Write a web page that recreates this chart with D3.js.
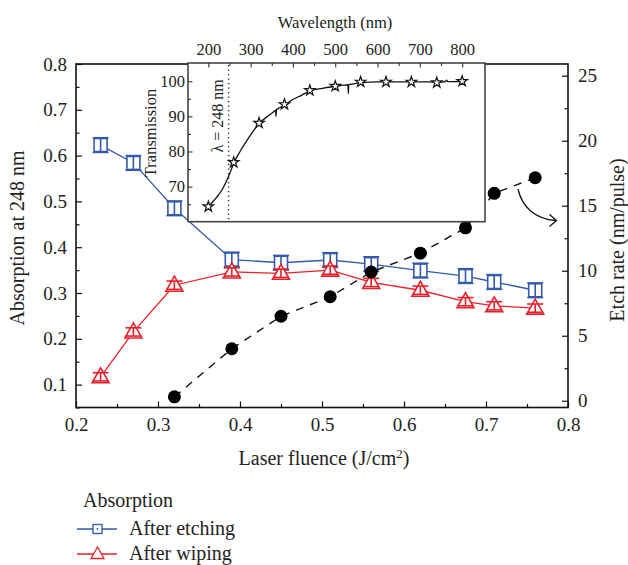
<!DOCTYPE html>
<html><head><meta charset="utf-8">
<script src="https://cdn.jsdelivr.net/npm/d3@7"></script>
<style>body{margin:0;background:#fff}svg{display:block}text{font-family:"Liberation Serif","Times New Roman",serif;fill:#222}</style>
</head><body><svg id="c" width="628" height="565"></svg>
<script>
// ---- data ----
const fluence = [0.23, 0.27, 0.32, 0.39, 0.45, 0.51, 0.56, 0.62, 0.675, 0.71, 0.76];
const absEtching = [0.623, 0.584, 0.485, 0.373, 0.366, 0.372, 0.363, 0.349, 0.337, 0.324, 0.306];
const errEtching = [0.016, 0.016, 0.016, 0.016, 0.016, 0.016, 0.016, 0.016, 0.016, 0.016, 0.016];
const absWiping = [0.117, 0.215, 0.317, 0.346, 0.343, 0.350, 0.323, 0.306, 0.281, 0.272, 0.267];
const errWiping = [0.009, 0.009, 0.009, 0.009, 0.009, 0.009, 0.009, 0.009, 0.009, 0.009, 0.009];
const etchFluence = [0.32, 0.39, 0.45, 0.51, 0.56, 0.62, 0.675, 0.71, 0.76];
const etchRate = [0.3, 4.0, 6.5, 8.0, 9.9, 11.35, 13.3, 15.95, 17.15];
const xTicks = [0.2, 0.3, 0.4, 0.5, 0.6, 0.7, 0.8];
const yLTicks = [0.1, 0.2, 0.3, 0.4, 0.5, 0.6, 0.7, 0.8];
const yRTicks = [0, 5, 10, 15, 20, 25];
// inset spectrum
const specWl = [200, 210, 220, 230, 240, 250, 261, 275, 291, 305, 321, 340, 355, 359, 360, 361, 365, 382, 400, 420, 441, 470, 503, 520, 530, 531, 532, 540, 562, 600, 621, 660, 683, 720, 744, 760, 763, 766, 780, 802];
const specT = [64.3, 65.6, 67.0, 68.6, 70.8, 73.5, 76.9, 80.0, 83.1, 85.6, 88.1, 90.0, 91.4, 91.8, 90.0, 91.9, 92.2, 93.4, 94.8, 96.0, 97.3, 98.0, 98.6, 98.9, 99.0, 96.5, 99.0, 99.2, 99.6, 99.8, 99.8, 99.8, 99.8, 99.8, 99.7, 99.9, 100.3, 99.9, 99.9, 100.0];
const starWl = [200, 260, 320, 380, 440, 500, 560, 620, 680, 740, 800];
const starT = [64.3, 76.9, 88.1, 93.4, 97.4, 98.6, 99.8, 99.8, 99.8, 99.6, 100.0];
const insetXTicks = [200, 300, 400, 500, 600, 700, 800];
const insetYTicks = [70, 80, 90, 100];
const laserLine = 248;

const BLUE = "#3559ad", RED = "#e8212b";
const svg = d3.select("#c");

// ---- scales ----
const L = 76, R = 568, T = 64, B = 407.5;
const x = d3.scaleLinear([0.2, 0.8], [L, R]);
const yL = d3.scaleLinear([0.05, 0.8], [B, T]);
const yR = d3.scaleLinear([-0.52, 25.9], [B, T]);

function minor(vals) {
  const out = [];
  for (let i = 0; i < vals.length - 1; i++) out.push(+((vals[i] + vals[i+1]) / 2).toFixed(4));
  return out;
}

// axes
const fmt1 = d3.format(".1f");
svg.append("g").attr("transform", `translate(0,${B})`)
  .call(d3.axisBottom(x).tickValues(xTicks).tickFormat(fmt1).tickSizeInner(-6).tickSizeOuter(0).tickPadding(10));
svg.append("g").attr("transform", `translate(0,${B})`)
  .call(d3.axisBottom(x).tickValues(minor(xTicks)).tickFormat("").tickSizeInner(-3.5).tickSizeOuter(0));
svg.append("g").attr("transform", `translate(${L},0)`)
  .call(d3.axisLeft(yL).tickValues(yLTicks).tickFormat(fmt1).tickSizeInner(-6).tickSizeOuter(0).tickPadding(9));
svg.append("g").attr("transform", `translate(${L},0)`)
  .call(d3.axisLeft(yL).tickValues([0.05].concat(minor(yLTicks))).tickFormat("").tickSizeInner(-3.5).tickSizeOuter(0));
svg.append("g").attr("transform", `translate(${R},0)`)
  .call(d3.axisRight(yR).tickValues(yRTicks).tickFormat(d3.format("d")).tickSizeInner(-6).tickSizeOuter(0).tickPadding(10));
svg.append("g").attr("transform", `translate(${R},0)`)
  .call(d3.axisRight(yR).tickValues(minor(yRTicks)).tickFormat("").tickSizeInner(-3.5).tickSizeOuter(0));
svg.selectAll(".tick text").style("font-size", "19px").style("font-family", "Liberation Serif").attr("fill", "#222");
svg.selectAll(".tick line").attr("stroke", "#111").attr("stroke-width", 1.2);
svg.selectAll(".domain").remove();
// frame
svg.append("rect").attr("x", L).attr("y", T).attr("width", R - L).attr("height", B - T)
  .attr("fill", "none").attr("stroke", "#111").attr("stroke-width", 1.6);

// titles
svg.append("text").attr("transform", `translate(24,238) rotate(-90)`).attr("text-anchor", "middle")
  .style("font-size", "20px").text("Absorption at 248 nm");
svg.append("text").attr("transform", `translate(624,240) rotate(-90)`).attr("text-anchor", "middle")
  .style("font-size", "20px").text("Etch rate (nm/pulse)");
const xt = svg.append("text").attr("x", 324).attr("y", 465).attr("text-anchor", "middle").style("font-size", "20px");
xt.append("tspan").text("Laser fluence (J/cm");
xt.append("tspan").attr("dy", -7).style("font-size", "13px").text("2");
xt.append("tspan").attr("dy", 7).text(")");

// ---- data: etching (blue squares) ----
const gE = svg.append("g");
gE.append("path").datum(fluence.map((f, i) => [f, absEtching[i]]))
  .attr("d", d3.line().x(d => x(d[0])).y(d => yL(d[1])))
  .attr("fill", "none").attr("stroke", BLUE).attr("stroke-width", 1.3);
fluence.forEach((f, i) => {
  const cx = x(f), cy = yL(absEtching[i]), y1 = yL(absEtching[i] + errEtching[i]), y2 = yL(absEtching[i] - errEtching[i]);
  const g = gE.append("g").attr("stroke", BLUE).attr("stroke-width", 1.6).attr("fill", "none");
  g.append("rect").attr("x", cx - 6.5).attr("y", cy - 6.5).attr("width", 13).attr("height", 13).attr("fill", "#fff");
  g.append("line").attr("x1", cx).attr("x2", cx).attr("y1", y1).attr("y2", y2);
  g.append("line").attr("x1", cx - 8).attr("x2", cx + 8).attr("y1", y1).attr("y2", y1);
  g.append("line").attr("x1", cx - 8).attr("x2", cx + 8).attr("y1", y2).attr("y2", y2);
});

// ---- data: wiping (red triangles) ----
const gW = svg.append("g");
gW.append("path").datum(fluence.map((f, i) => [f, absWiping[i]]))
  .attr("d", d3.line().x(d => x(d[0])).y(d => yL(d[1])))
  .attr("fill", "none").attr("stroke", RED).attr("stroke-width", 1.3);
fluence.forEach((f, i) => {
  const cx = x(f), cy = yL(absWiping[i]), y1 = yL(absWiping[i] + errWiping[i]), y2 = yL(absWiping[i] - errWiping[i]);
  const g = gW.append("g").attr("stroke", RED).attr("stroke-width", 1.6).attr("fill", "none");
  g.append("path").attr("d", `M${cx},${cy - 9}L${cx + 8.5},${cy + 6}L${cx - 8.5},${cy + 6}Z`).attr("fill", "#fff");
  g.append("line").attr("x1", cx).attr("x2", cx).attr("y1", y1).attr("y2", y2);
  g.append("line").attr("x1", cx - 8).attr("x2", cx + 8).attr("y1", y1).attr("y2", y1);
  g.append("line").attr("x1", cx - 8).attr("x2", cx + 8).attr("y1", y2).attr("y2", y2);
});

// ---- etch rate (black dots) ----
svg.append("path").datum(etchFluence.map((f, i) => [f, etchRate[i]]))
  .attr("d", d3.line().x(d => x(d[0])).y(d => yR(d[1])))
  .attr("fill", "none").attr("stroke", "#111").attr("stroke-width", 1.4).attr("stroke-dasharray", "8,7");
svg.append("g").selectAll("circle").data(etchFluence).join("circle")
  .attr("cx", d => x(d)).attr("cy", (d, i) => yR(etchRate[i])).attr("r", 6.5).attr("fill", "#000");

// ---- inset ----
const iL = 188, iR = 485, iT = 63, iB = 221.7;
const xi = d3.scaleLinear([152, 854], [iL, iR]);
const yi = d3.scaleLinear([60, 105.2], [iB, iT]);
const gi = svg.append("g");
gi.append("rect").attr("x", iL).attr("y", iT).attr("width", iR - iL).attr("height", iB - iT)
  .attr("fill", "#fff").attr("stroke", "#444").attr("stroke-width", 1.6);
gi.append("g").attr("transform", `translate(0,${iT})`)
  .call(d3.axisTop(xi).tickValues(insetXTicks).tickFormat(d3.format("d")).tickSizeInner(-4.5).tickSizeOuter(0).tickPadding(8));
gi.append("g").attr("transform", `translate(0,${iT})`)
  .call(d3.axisTop(xi).tickValues(minor(insetXTicks)).tickFormat("").tickSizeInner(-3).tickSizeOuter(0));
gi.append("g").attr("transform", `translate(${iL},0)`)
  .call(d3.axisLeft(yi).tickValues(insetYTicks).tickFormat(d3.format("d")).tickSizeInner(-4.5).tickSizeOuter(0).tickPadding(3));
gi.append("g").attr("transform", `translate(${iL},0)`)
  .call(d3.axisLeft(yi).tickValues([65, 75, 85, 95]).tickFormat("").tickSizeInner(-3).tickSizeOuter(0));
gi.selectAll(".domain").remove();
gi.selectAll(".tick text").style("font-size", "16.5px").style("font-family", "Liberation Serif").attr("fill", "#333");
gi.selectAll(".tick line").attr("stroke", "#333").attr("stroke-width", 1.1);
gi.append("text").attr("x", 335).attr("y", 28).attr("text-anchor", "middle").style("font-size", "16.5px").attr("fill", "#333").text("Wavelength (nm)");
gi.append("text").attr("transform", `translate(156,133) rotate(-90)`).attr("text-anchor", "middle").style("font-size", "16.5px").attr("fill", "#333").text("Transmission");
// laser line
gi.append("line").attr("x1", xi(laserLine)).attr("x2", xi(laserLine)).attr("y1", iT + 2).attr("y2", iB - 1)
  .attr("stroke", "#333").attr("stroke-width", 1.5).attr("stroke-dasharray", "1.3,3.2");
gi.append("text").attr("transform", `translate(${xi(laserLine) - 6},116) rotate(-90)`).attr("text-anchor", "middle")
  .style("font-size", "16px").attr("fill", "#333").text("λ = 248 nm");
gi.append("path").datum(specWl.map((w, i) => [w, specT[i]]))
  .attr("d", d3.line().x(d => xi(d[0])).y(d => yi(d[1])).curve(d3.curveMonotoneX))
  .attr("fill", "none").attr("stroke", "#111").attr("stroke-width", 1.3);
gi.append("g").selectAll("path").data(starWl).join("path")
  .attr("transform", (d, i) => `translate(${xi(d)},${yi(starT[i])})`)
  .attr("d", d3.symbol(d3.symbolStar, 34)).attr("fill", "#fff").attr("stroke", "#111").attr("stroke-width", 1.2);

// arrow
svg.append("path").attr("d", "M518,189 C522,207 535,219 556,220.5")
  .attr("fill", "none").attr("stroke", "#111").attr("stroke-width", 1.3);
svg.append("path").attr("d", "M549.5,214.5 L556.5,220.5 L549.5,226.5")
  .attr("fill", "none").attr("stroke", "#111").attr("stroke-width", 1.3);

// ---- legend ----
const lg = svg.append("g");
lg.append("text").attr("x", 83).attr("y", 507).style("font-size", "20px").text("Absorption");
[[BLUE, "After etching", 529, "sq"], [RED, "After wiping", 554, "tri"]].forEach(([c, t, y, m]) => {
  lg.append("line").attr("x1", 77).attr("x2", 117).attr("y1", y).attr("y2", y).attr("stroke", c).attr("stroke-width", 1.3);
  if (m === "sq") {
    lg.append("rect").attr("x", 93).attr("y", y - 4.5).attr("width", 9).attr("height", 9).attr("fill", "#fff").attr("stroke", c).attr("stroke-width", 1.3);
    lg.append("circle").attr("cx", 97.5).attr("cy", y).attr("r", 0.9).attr("fill", c);
  } else {
    lg.append("path").attr("d", `M97.5,${y - 7}L104,${y + 4.5}L91,${y + 4.5}Z`).attr("fill", "#fff").attr("stroke", c).attr("stroke-width", 1.3);
  }
  lg.append("text").attr("x", 129).attr("y", y + 6).style("font-size", "20px").text(t);
});
</script></body></html>
